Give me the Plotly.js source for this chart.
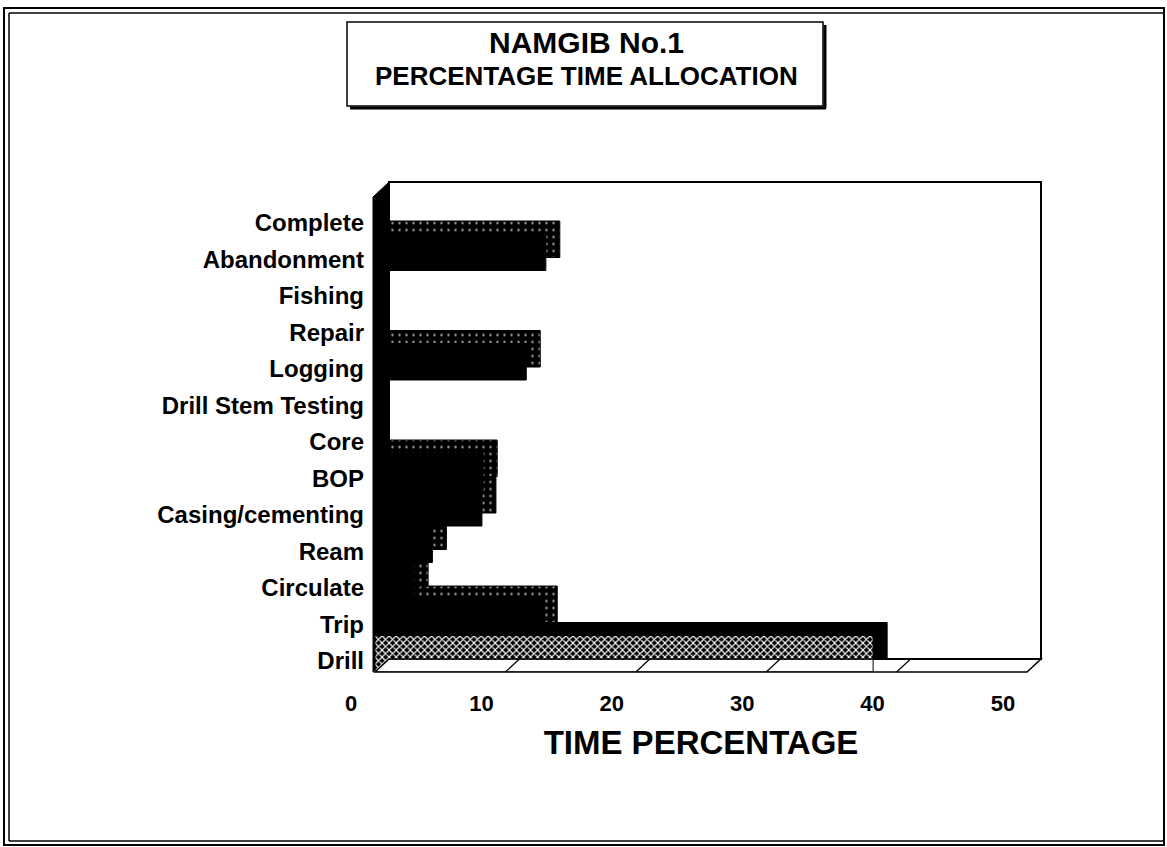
<!DOCTYPE html>
<html>
<head>
<meta charset="utf-8">
<script src="https://cdn.plot.ly/plotly-3.0.1.min.js"></script>
<style>html,body{margin:0;padding:0;background:#fff;}#chart{width:1167px;height:847px;}</style>
</head>
<body>
<div id="chart"></div>
<script>
// ---- data (bottom to top) ----
const categories = ['Drill','Trip','Circulate','Ream','Casing/cementing','BOP','Core',
  'Drill Stem Testing','Logging','Repair','Fishing','Abandonment','Complete'];
const timePercent = [38.2, 12.9, 3.0, 4.4, 8.2, 8.3, 0, 0, 11.6, 0, 0, 13.1, 0];
const xTickValues = [0, 10, 20, 30, 40, 50];
const xTickLabels = ['0', '10', '20', '30', '40', '50'];
const chartTitle1 = 'NAMGIB No.1';
const chartTitle2 = 'PERCENTAGE TIME ALLOCATION';
const xTitle = 'TIME PERCENTAGE';

// ---- geometry helpers ----
const W = 1167, H = 847, L = 375, R = 126, T = 183, B = 175;
const PW = W - L - R, PH = H - T - B;
const px = x => (x - L) / PW;
const py = y => (H - B - y) / PH;
const FONT = 'Liberation Sans, Arial, Helvetica, sans-serif';

const frontPattern = categories.map(c => c === 'Drill' ? 'x' : '');
const frontColor = categories.map(c => c === 'Drill' ? '#ffffff' : '#000000');
const backPattern = categories.map(c => c === 'Drill' ? '' : '.');

const backTrace = {
  type: 'bar', orientation: 'h', x: timePercent, y: categories,
  xaxis: 'x', yaxis: 'y', hoverinfo: 'skip', showlegend: false,
  marker: { color: '#000000', line: { color: '#000', width: 1 },
    pattern: { shape: backPattern, fgcolor: '#a0a0a0', bgcolor: '#000000', size: 7, solidity: 0.1 } }
};
const frontTrace = {
  type: 'bar', orientation: 'h', x: timePercent, y: categories,
  xaxis: 'x2', yaxis: 'y2', showlegend: false,
  marker: { color: frontColor, line: { color: '#000', width: 1 },
    pattern: { shape: frontPattern, fgcolor: '#000000', size: 5, solidity: 0.4 } }
};

const shapes = [];
// page border
shapes.push({type:'rect', xref:'paper', yref:'paper', x0:px(4), x1:px(1164), y0:py(845), y1:py(8), line:{color:'#000', width:2}, layer:'below'});
shapes.push({type:'line', xref:'paper', yref:'paper', x0:px(9), x1:px(9), y0:py(841), y1:py(13), line:{color:'#000', width:1.5}, layer:'below'});
shapes.push({type:'line', xref:'paper', yref:'paper', x0:px(9), x1:px(1164), y0:py(13), y1:py(13), line:{color:'#000', width:1.5}, layer:'below'});
shapes.push({type:'line', xref:'paper', yref:'paper', x0:px(9), x1:px(1164), y0:py(841), y1:py(841), line:{color:'#000', width:1.5}, layer:'below'});
// title box with shadow
shapes.push({type:'rect', xref:'paper', yref:'paper', x0:px(347), x1:px(823), y0:py(106), y1:py(22), line:{color:'#000', width:1.5}, fillcolor:'#fff', layer:'below'});
shapes.push({type:'line', xref:'paper', yref:'paper', x0:px(825), x1:px(825), y0:py(108), y1:py(25), line:{color:'#000', width:3}, layer:'below'});
shapes.push({type:'line', xref:'paper', yref:'paper', x0:px(350), x1:px(826), y0:py(108), y1:py(108), line:{color:'#000', width:3}, layer:'below'});
// back wall
shapes.push({type:'rect', xref:'paper', yref:'paper', x0:px(389), x1:px(1041), y0:py(659), y1:py(182), line:{color:'#000', width:2}, layer:'below'});
// left wall
shapes.push({type:'path', xref:'paper', yref:'paper',
  path:`M ${px(373)} ${py(672)} L ${px(373)} ${py(197)} L ${px(389)} ${py(182)} L ${px(389)} ${py(659)} Z`,
  fillcolor:'#000', line:{color:'#000', width:1}, layer:'below'});
// floor outline (drawn above bars)
shapes.push({type:'path', xref:'paper', yref:'paper',
  path:`M ${px(375)} ${py(672)} L ${px(1027)} ${py(672)} L ${px(1041)} ${py(659)} L ${px(389)} ${py(659)} Z`,
  line:{color:'#000', width:1.5}, layer:'above'});
// floor tick marks
xTickValues.slice(1, -1).forEach(v => {
  shapes.push({type:'line', xref:'x2', yref:'paper', xsizemode:'pixel', xanchor:v, x0:0, x1:14,
    y0:py(672), y1:py(659), line:{color:'#000', width:1.2}, layer:'above'});
});

const annotations = [
  {xref:'paper', yref:'paper', x:px(586), y:py(43), text:chartTitle1, showarrow:false,
   xanchor:'center', yanchor:'middle', font:{family:FONT, size:30, weight:'bold', color:'#000'}},
  {xref:'paper', yref:'paper', x:px(586), y:py(76), text:chartTitle2, showarrow:false,
   xanchor:'center', yanchor:'middle', font:{family:FONT, size:26, weight:'bold', color:'#000'}}
];

const layout = {
  width: W, height: H,
  margin: {l: L, r: R, t: T, b: B, pad: 0},
  paper_bgcolor: '#ffffff', plot_bgcolor: 'rgba(0,0,0,0)',
  bargap: 0, barmode: 'group', showlegend: false,
  font: {family: FONT, color: '#000', weight: 'bold'},
  xaxis: {domain:[px(389), px(1041)], range:[0,50], anchor:'y', visible:false, fixedrange:true},
  yaxis: {domain:[py(659), py(184.5)], type:'category', categoryorder:'array', categoryarray:categories,
          range:[-0.5, 12.5], anchor:'x', visible:false, fixedrange:true},
  xaxis2: {domain:[px(375), px(1027)], range:[0,50], anchor:'y2', tickmode:'array',
           tickvals:xTickValues, ticktext:xTickLabels, ticks:'', showgrid:false, zeroline:false,
           showline:false, ticklabelshift:-24, ticklabelstandoff:16, automargin:false,
           tickfont:{family:FONT, size:22, weight:'bold', color:'#000'},
           title:{text:xTitle, standoff:15, font:{family:FONT, size:33, weight:'bold', color:'#000'}},
           fixedrange:true},
  yaxis2: {domain:[py(672), py(197.5)], type:'category', categoryorder:'array', categoryarray:categories,
           range:[-0.5, 12.5], anchor:'x2', ticks:'', showgrid:false, zeroline:false, showline:false,
           ticklabelshift:7, ticklabelstandoff:10, automargin:false,
           tickfont:{family:FONT, size:24, weight:'bold', color:'#000'}, fixedrange:true},
  shapes: shapes,
  annotations: annotations
};

Plotly.newPlot('chart', [backTrace, frontTrace], layout, {displayModeBar:false, staticPlot:true});
</script>
</body>
</html>
